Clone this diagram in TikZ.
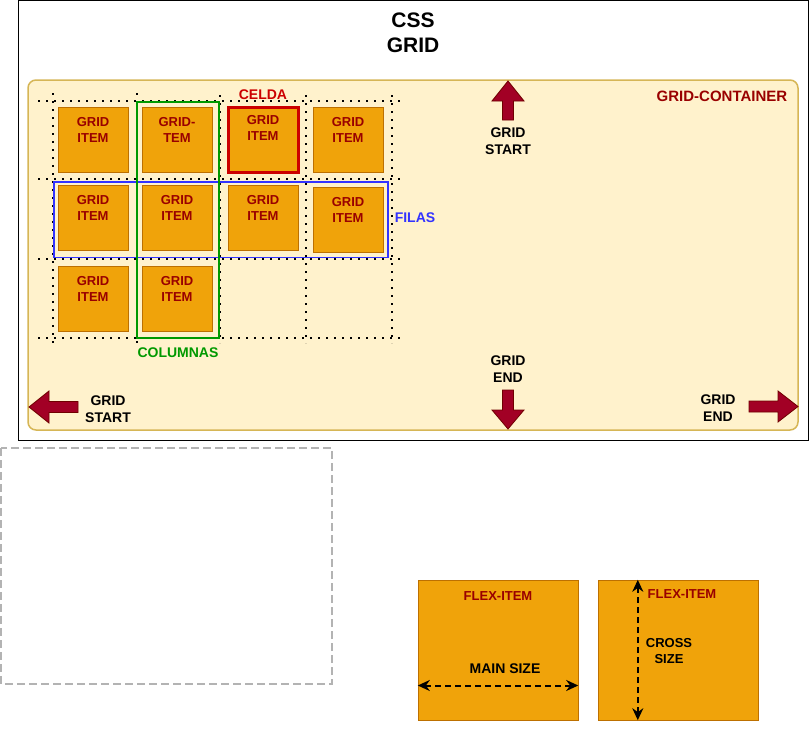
\documentclass[tikz,border=0pt]{standalone}
\usepackage{fontspec}
\setmainfont{Liberation Sans}
\usetikzlibrary{positioning,arrows.meta}

\definecolor{itemfill}{HTML}{F0A30A}
\definecolor{itemline}{HTML}{BD7000}
\definecolor{itemtxt}{HTML}{990000}
\definecolor{boxfill}{HTML}{FFF2CC}
\definecolor{boxline}{HTML}{D6B656}
\definecolor{celdared}{HTML}{CC0000}
\definecolor{colgreen}{HTML}{009900}
\definecolor{filblue}{HTML}{3333FF}
\definecolor{arrowfill}{HTML}{A20025}
\definecolor{arrowline}{HTML}{6F0000}
\definecolor{dashgray}{HTML}{B3B3B3}

\begin{document}
\begin{tikzpicture}[x=1pt, y=-1pt,
container/.style={rectangle, draw=boxline, fill=boxfill, line width=1.5pt, rounded corners=8pt, minimum width=770pt, minimum height=350pt},
griditem/.style={rectangle, draw=itemline, fill=itemfill, minimum width=70pt, minimum height=65pt, inner sep=0pt},
flexitem/.style={rectangle, draw=itemline, fill=itemfill, minimum width=160pt, minimum height=140pt, inner sep=0pt},
itemtext/.style={anchor=north, inner sep=0pt, inner ysep=10pt, align=center, text=itemtxt, font=\bfseries\fontsize{13}{16}\selectfont},
bigtext/.style={align=center, inner sep=0pt, font=\bfseries\fontsize{14}{17}\selectfont},
gridline/.style={line width=2.2pt, dash pattern=on 2.2pt off 5.8pt},
blockarrow/.style={fill=arrowfill, draw=arrowline, line width=0.8pt},
sizearrow/.style={line width=2pt, dash pattern=on 6pt off 4pt, {Stealth[length=12pt,width=11pt]}-{Stealth[length=12pt,width=11pt]}},
]
\useasboundingbox (0,0) rectangle (809,731);

%Frame
\draw[line width=1pt] (18.5,0.5) rectangle (808.5,440.5);
\node[align=center, inner sep=0pt, font=\bfseries\fontsize{21}{25}\selectfont] (title) at (413,32.5) {CSS\\GRID};
\node[container] (gc) at (413,255) {};
\node[bigtext, text=itemtxt, font=\bfseries\fontsize{15}{18}\selectfont] (gctext) at (722,96) {GRID-CONTAINER};

%Grid lines
\draw[gridline] (38,101) -- (400,101);
\draw[gridline] (38,179) -- (400,179);
\draw[gridline] (38,259) -- (400,259);
\draw[gridline] (38,338) -- (400,338);
\draw[gridline] (53,93) -- (53,343);
\draw[gridline] (137,93) -- (137,343);
\draw[gridline] (220,95) -- (220,343);
\draw[gridline] (306,95) -- (306,343);
\draw[gridline] (392,95) -- (392,343);

%Grid items
\node[griditem, label={[itemtext]north:GRID\\ITEM}] (g11) at (93,139.5) {};
\node[griditem, label={[itemtext]north:GRID-\\TEM}] (g12) at (177,139.5) {};
\node[griditem, draw=celdared, line width=3pt, label={[itemtext]north:GRID\\ITEM}] (g13) at (263,139.5) {};
\node[griditem, label={[itemtext]north:GRID\\ITEM}] (g14) at (348,139.5) {};
\node[griditem, label={[itemtext]north:GRID\\ITEM}] (g21) at (93,217.5) {};
\node[griditem, label={[itemtext]north:GRID\\ITEM}] (g22) at (177,217.5) {};
\node[griditem, label={[itemtext]north:GRID\\ITEM}] (g23) at (263,217.5) {};
\node[griditem, label={[itemtext]north:GRID\\ITEM}] (g24) at (348,219.5) {};
\node[griditem, label={[itemtext]north:GRID\\ITEM}] (g31) at (93,298.5) {};
\node[griditem, label={[itemtext]north:GRID\\ITEM}] (g32) at (177,298.5) {};

%Columns and rows
\draw[filblue, line width=1.5pt] (54,182) rectangle (388,257.5);
\draw[colgreen, line width=2pt] (137,102) rectangle (219,338);
\node[bigtext, text=celdared] (celda) at (263,95) {CELDA};
\node[bigtext, text=colgreen] (columnas) at (178,353) {COLUMNAS};
\node[bigtext, text=filblue] (filas) at (415,218) {FILAS};

%Arrows
\filldraw[blockarrow] (508,81) -- (524,101) -- (513.5,101) -- (513.5,120) -- (502.5,120) -- (502.5,101) -- (492,101) -- cycle;
\filldraw[blockarrow] (508,429) -- (524,410) -- (513.5,410) -- (513.5,390) -- (502.5,390) -- (502.5,410) -- (492,410) -- cycle;
\filldraw[blockarrow] (29,407) -- (49,391) -- (49,401.5) -- (78,401.5) -- (78,412.5) -- (49,412.5) -- (49,423) -- cycle;
\filldraw[blockarrow] (798,406.5) -- (778,391) -- (778,401) -- (749,401) -- (749,412) -- (778,412) -- (778,422) -- cycle;
\node[bigtext] (topstart) at (508,141.5) {GRID\\START};
\node[bigtext] (topend) at (508,369.5) {GRID\\END};
\node[bigtext] (leftstart) at (108,409.5) {GRID\\START};
\node[bigtext] (rightend) at (718,408.5) {GRID\\END};

%Flex items
\draw[dashgray, line width=1.5pt, dash pattern=on 8pt off 4pt] (1,448) rectangle (332,684);
\node[flexitem, label={[itemtext, inner ysep=12pt, font=\bfseries\fontsize{13}{15}\selectfont]north:FLEX-ITEM}] (flexa) at (498,650) {};
\node[flexitem] (flexb) at (678,650) {};
\node[itemtext, inner ysep=0pt, font=\bfseries\fontsize{13}{15}\selectfont] (flexbtext) at (682,589.5) {FLEX-ITEM};
\node[bigtext, font=\bfseries\fontsize{14}{16}\selectfont] (mainsize) at (505,669) {MAIN SIZE};
\node[bigtext, font=\bfseries\fontsize{13}{16}\selectfont] (crosssize) at (669,651) {CROSS\\SIZE};
\coordinate (msl) at ([yshift=-35.5pt]flexa.west);
\coordinate (msr) at ([yshift=-35.5pt]flexa.east);
\coordinate (cst) at ([xshift=40pt]flexb.north west);
\coordinate (csb) at ([xshift=40pt]flexb.south west);

%Lines
\draw[sizearrow] (msl) -- (msr);
\draw[sizearrow] (cst) -- (csb);
\end{tikzpicture}
\end{document}
